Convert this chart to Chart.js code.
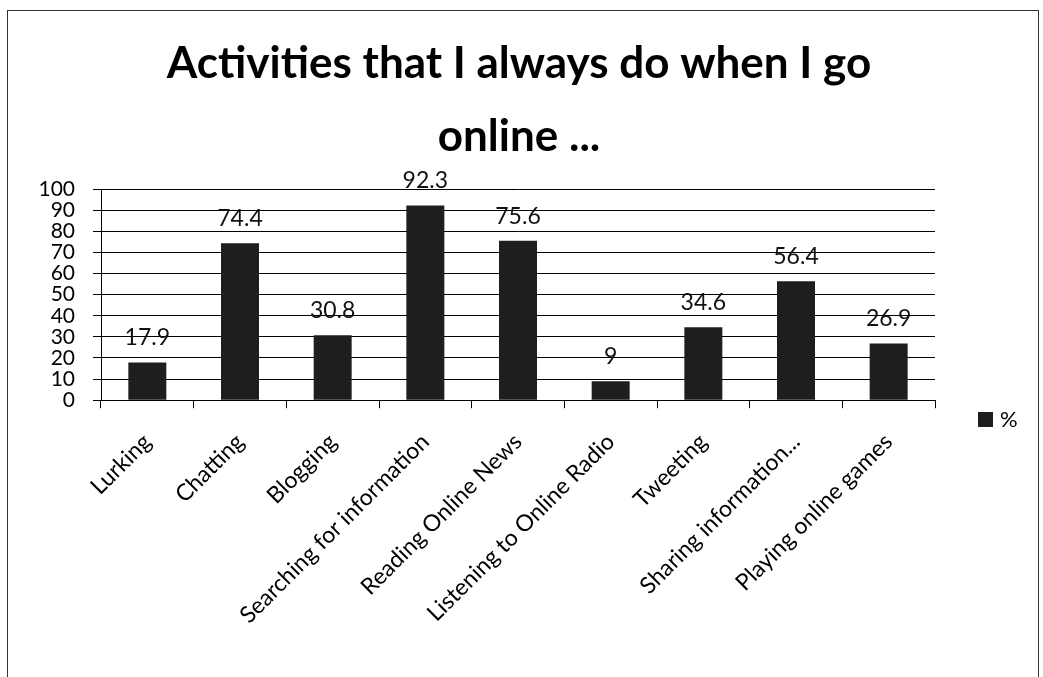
<!DOCTYPE html>
<html>
<head>
<meta charset="utf-8">
<script src="https://cdn.jsdelivr.net/npm/chart.js@4/dist/chart.umd.min.js"></script>
<style>
  html, body { margin: 0; padding: 0; background: #fff; }
  #frame {
    position: absolute; left: 7px; top: 10px; width: 1032px; height: 670px;
    border: 1px solid #333; border-bottom: none; box-sizing: border-box;
  }
  #wrap { position: absolute; left: 0; top: 0; width: 1043px; height: 677px; }
</style>
</head>
<body>
<div id="frame"></div>
<div id="wrap"><canvas id="activityChart" width="1043" height="677"></canvas></div>
<script>
  // activities and their share in %
  var activities = [
    'Lurking', 'Chatting', 'Blogging', 'Searching for information',
    'Reading Online News', 'Listening to Online Radio', 'Tweeting',
    'Sharing information...', 'Playing online games'
  ];
  var percentValues = [17.9, 74.4, 30.8, 92.3, 75.6, 9, 34.6, 56.4, 26.9];
  var yTicks = [0, 10, 20, 30, 40, 50, 60, 70, 80, 90, 100];
  var seriesName = '%';

  var fontFace = 'Lato, "Open Sans", sans-serif';
  var barColor = '#1e1e1e';

  // prints the value over every bar and the small legend on the right
  var barValues = {
    id: 'barValues',
    afterDatasetsDraw: function(chart) {
      var ctx = chart.ctx;
      var meta = chart.getDatasetMeta(0);
      var area = chart.chartArea;
      ctx.save();
      ctx.font = '23px ' + fontFace;
      ctx.fillStyle = '#111';
      ctx.textAlign = 'center';
      ctx.textBaseline = 'alphabetic';
      meta.data.forEach(function(bar, i) {
        ctx.fillText(String(percentValues[i]), bar.x, bar.y - 17);
      });

      // legend: square swatch + series name
      var lx = area.right + 43;
      var ly = 420;
      ctx.fillStyle = barColor;
      ctx.fillRect(lx, ly - 8, 15, 15);
      ctx.fillStyle = '#000';
      ctx.font = '22px ' + fontFace;
      ctx.textAlign = 'left';
      ctx.textBaseline = 'middle';
      ctx.fillText(seriesName, lx + 22, ly);
      ctx.restore();
    }
  };

  var ctx = document.getElementById('activityChart').getContext('2d');
  var activityChart = new Chart(ctx, {
    type: 'bar',
    data: {
      labels: activities,
      datasets: [{
        label: seriesName,
        data: percentValues,
        backgroundColor: barColor,
        borderWidth: 0,
        categoryPercentage: 1.0,
        barPercentage: 0.41
      }]
    },
    options: {
      responsive: false,
      animation: false,
      layout: { padding: { left: 0, right: 5, top: 0, bottom: 28 } },
      plugins: {
        title: {
          display: true,
          text: ['Activities that I always do when I go', 'online ...'],
          color: '#000',
          font: { family: fontFace, size: 44, weight: 'bold', lineHeight: 1.65 },
          padding: { top: 28, bottom: 16 }
        },
        legend: { display: false },
        tooltip: { enabled: false }
      },
      scales: {
        x: {
          grid: { display: true, drawOnChartArea: false, color: '#000', tickLength: 8, offset: true },
          border: { color: '#000', width: 1 },
          ticks: {
            color: '#000',
            autoSkip: false,
            maxRotation: 45,
            minRotation: 45,
            padding: 20,
            font: { family: fontFace, size: 23 }
          }
        },
        y: {
          min: 0,
          max: 100,
          afterBuildTicks: function(axis) {
            axis.ticks = yTicks.map(function(v) { return { value: v }; });
          },
          afterFit: function(axis) { axis.width = 101; },
          grid: { color: '#000', lineWidth: 1, tickLength: 8 },
          border: { color: '#000', width: 1 },
          ticks: {
            color: '#000',
            autoSkip: false,
            padding: 18,
            font: { family: fontFace, size: 21 }
          }
        },
        // empty box on the right that keeps room for the legend
        side: {
          position: 'right',
          display: true,
          afterFit: function(axis) { axis.width = 103; },
          grid: { display: false },
          border: { display: false },
          ticks: { display: false }
        }
      }
    },
    plugins: [barValues]
  });
</script>
</body>
</html>
